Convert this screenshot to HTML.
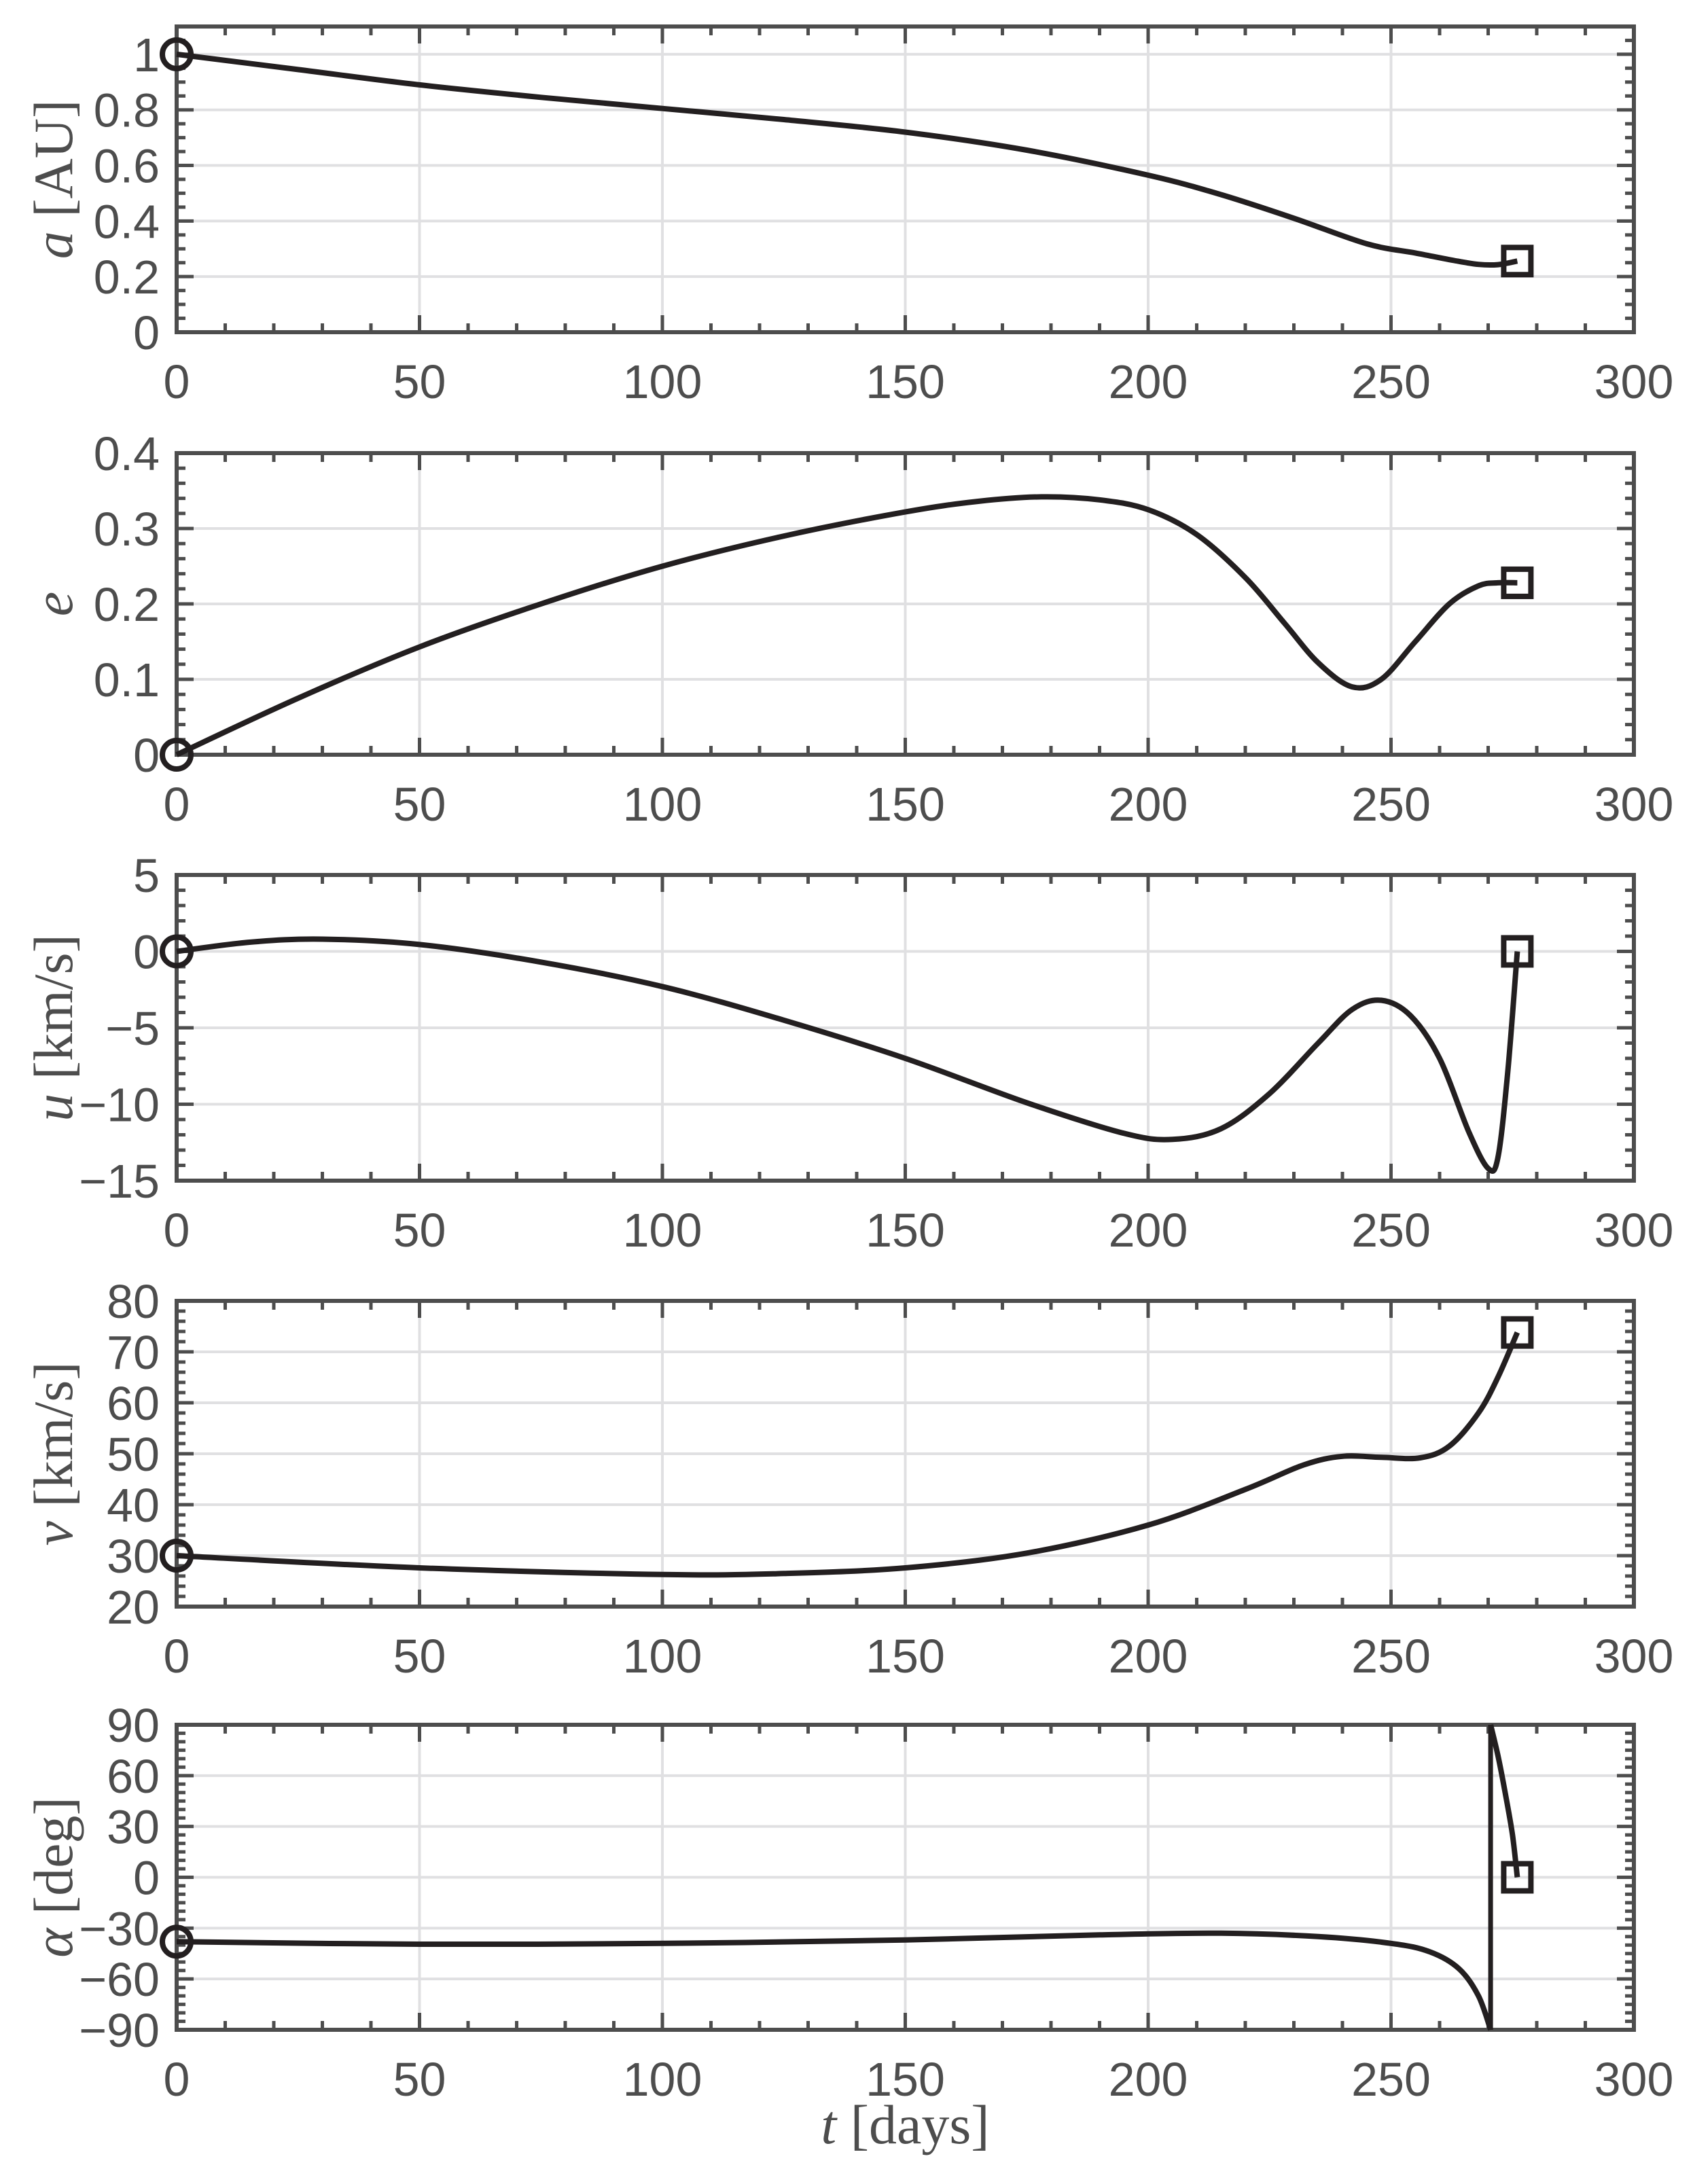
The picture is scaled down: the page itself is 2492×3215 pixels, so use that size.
<!DOCTYPE html>
<html><head><meta charset="utf-8"><style>
html,body{margin:0;padding:0;background:#fff}
svg{display:block}
</style></head><body>
<svg id="s" width="2492" height="3215" xmlns="http://www.w3.org/2000/svg"></svg>
<script>
const S=document.getElementById('s');
const L=260,R=2405;
const X=t=>L+(t/300)*(R-L);
const panels=[
 {top:39,bot:489,lo:0,hi:1.1,major:[0,0.2,0.4,0.6,0.8,1],labs:['0','0.2','0.4','0.6','0.8','1'],minor:0.05,
  lab:['a',' [AU]'],
  d:[[0,1],[25,0.945],[50,0.89],[75,0.845],[100,0.805],[125,0.765],[150,0.72],[175,0.655],[200,0.565],[215,0.495],[230,0.41],[245,0.318],[255,0.285],[263,0.258],[268,0.244],[272,0.243],[276,0.256]]},
 {top:667,bot:1111,lo:0,hi:0.4,major:[0,0.1,0.2,0.3,0.4],labs:['0','0.1','0.2','0.3','0.4'],minor:0.02,
  lab:['e',''],
  d:[[0,0],[25,0.075],[50,0.143],[75,0.2],[100,0.25],[125,0.29],[150,0.322],[165,0.336],[178,0.342],[190,0.338],[200,0.325],[210,0.292],[220,0.235],[228,0.175],[235,0.122],[242,0.09],[248,0.1],[255,0.15],[262,0.2],[268,0.224],[272,0.228],[276,0.228]]},
 {top:1288,bot:1738,lo:-15,hi:5,major:[-15,-10,-5,0,5],labs:['\u221215','\u221210','\u22125','0','5'],minor:1,
  lab:['u',' [km/s]'],
  d:[[0,0],[15,0.6],[30,0.8],[50,0.45],[75,-0.7],[100,-2.3],[125,-4.5],[150,-7],[175,-9.9],[195,-11.9],[205,-12.3],[215,-11.6],[225,-9.3],[235,-6],[242,-3.8],[248,-3.2],[254,-4.2],[260,-7],[266,-11.8],[270,-14.2],[272,-13.5],[274,-8],[276,0]]},
 {top:1915,bot:2365,lo:20,hi:80,major:[20,30,40,50,60,70,80],labs:['20','30','40','50','60','70','80'],minor:2,
  lab:['v',' [km/s]'],
  d:[[0,30],[50,27.6],[100,26.3],[125,26.5],[150,27.6],[175,30.5],[200,36],[220,43],[232,47.8],[240,49.5],[248,49.3],[256,49.2],[262,51.5],[268,58],[272,65],[276,73.8]]},
 {top:2539,bot:2988,lo:-90,hi:90,major:[-90,-60,-30,0,30,60,90],labs:['\u221290','\u221260','\u221230','0','30','60','90'],minor:5,
  lab:['\u03b1',' [deg]'],
  d:[[0,-38],[50,-39.5],[100,-39],[150,-37],[190,-34],[215,-33],[235,-35],[250,-39],[258,-44],[264,-54],[268,-70],[270.5,-90]],
  d2:[[270.5,90],[272,72],[273.5,50],[275,25],[276,0]]}
];
let h='';
const gc='#4d4d4d';
function spline(pts){
  let p='M'+pts[0][0].toFixed(1)+' '+pts[0][1].toFixed(1);
  for(let i=0;i<pts.length-1;i++){
    const p0=pts[Math.max(0,i-1)],p1=pts[i],p2=pts[i+1],p3=pts[Math.min(pts.length-1,i+2)];
    const c1=[p1[0]+(p2[0]-p0[0])/6,p1[1]+(p2[1]-p0[1])/6];
    const c2=[p2[0]-(p3[0]-p1[0])/6,p2[1]-(p3[1]-p1[1])/6];
    p+=` C${c1[0].toFixed(1)} ${c1[1].toFixed(1)} ${c2[0].toFixed(1)} ${c2[1].toFixed(1)} ${p2[0].toFixed(1)} ${p2[1].toFixed(1)}`;
  }
  return p;
}
panels.forEach(P=>{
  const Y=v=>P.bot-(v-P.lo)/(P.hi-P.lo)*(P.bot-P.top);
  for(let t=50;t<300;t+=50) h+=`<line x1="${X(t)}" y1="${P.top}" x2="${X(t)}" y2="${P.bot}" stroke="#e0e0e2" stroke-width="4"/>`;
  P.major.forEach(v=>{if(v!==P.lo&&v!==P.hi) h+=`<line x1="${L}" y1="${Y(v)}" x2="${R}" y2="${Y(v)}" stroke="#e0e0e2" stroke-width="4"/>`;});
  for(let t=0;t<=300;t+=10){
    const len=t%50===0?25:13;
    h+=`<line x1="${X(t)}" y1="${P.bot}" x2="${X(t)}" y2="${P.bot-len}" stroke="${gc}" stroke-width="5"/>`;
    h+=`<line x1="${X(t)}" y1="${P.top}" x2="${X(t)}" y2="${P.top+len}" stroke="${gc}" stroke-width="5"/>`;
  }
  const n=Math.round((P.hi-P.lo)/P.minor);
  for(let i=0;i<=n;i++){
    const v=P.lo+i*P.minor;
    const isMaj=P.major.some(m=>Math.abs(m-v)<1e-9);
    const len=isMaj?25:13;
    h+=`<line x1="${L}" y1="${Y(v)}" x2="${L+len}" y2="${Y(v)}" stroke="${gc}" stroke-width="5"/>`;
    h+=`<line x1="${R}" y1="${Y(v)}" x2="${R-len}" y2="${Y(v)}" stroke="${gc}" stroke-width="5"/>`;
  }
  h+=`<rect x="${L}" y="${P.top}" width="${R-L}" height="${P.bot-P.top}" fill="none" stroke="${gc}" stroke-width="6"/>`;
  P.major.forEach((v,i)=>{h+=`<text x="235" y="${Y(v)+25}" text-anchor="end" font-family="Liberation Sans, sans-serif" font-size="70" fill="${gc}">${P.labs[i]}</text>`;});
  for(let t=0;t<=300;t+=50) h+=`<text x="${X(t)}" y="${P.bot+97}" text-anchor="middle" font-family="Liberation Sans, sans-serif" font-size="70" fill="${gc}">${t}</text>`;
  const cy=(P.top+P.bot)/2;
  h+=`<text transform="translate(106 ${cy}) rotate(-90)" text-anchor="middle" font-family="Liberation Serif, serif" font-size="82" fill="${gc}"><tspan font-style="italic">${P.lab[0]}</tspan>${P.lab[1]}</text>`;
  const pts=P.d.map(a=>[X(a[0]),Y(a[1])]);
  h+=`<path d="${spline(pts)}" fill="none" stroke="#231f20" stroke-width="8" stroke-linejoin="round"/>`;
  if(P.d2){
    h+=`<line x1="${X(270.5)}" y1="${Y(-90)}" x2="${X(270.5)}" y2="${Y(90)}" stroke="#231f20" stroke-width="7"/>`;
    const p2=P.d2.map(a=>[X(a[0]),Y(a[1])]);
    h+=`<path d="${spline(p2)}" fill="none" stroke="#231f20" stroke-width="8"/>`;
  }
  const f=P.d2?P.d2[P.d2.length-1]:P.d[P.d.length-1];
  h+=`<circle cx="${X(0)}" cy="${Y(P.d[0][1])}" r="21" fill="none" stroke="#231f20" stroke-width="8"/>`;
  h+=`<rect x="${X(f[0])-20}" y="${Y(f[1])-20}" width="40" height="40" fill="none" stroke="#231f20" stroke-width="8"/>`;
});
h+=`<text x="${(L+R)/2}" y="3155" text-anchor="middle" font-family="Liberation Serif, serif" font-size="82" fill="${gc}"><tspan font-style="italic">t</tspan> [days]</text>`;
S.innerHTML=h;
</script>
</body></html>
